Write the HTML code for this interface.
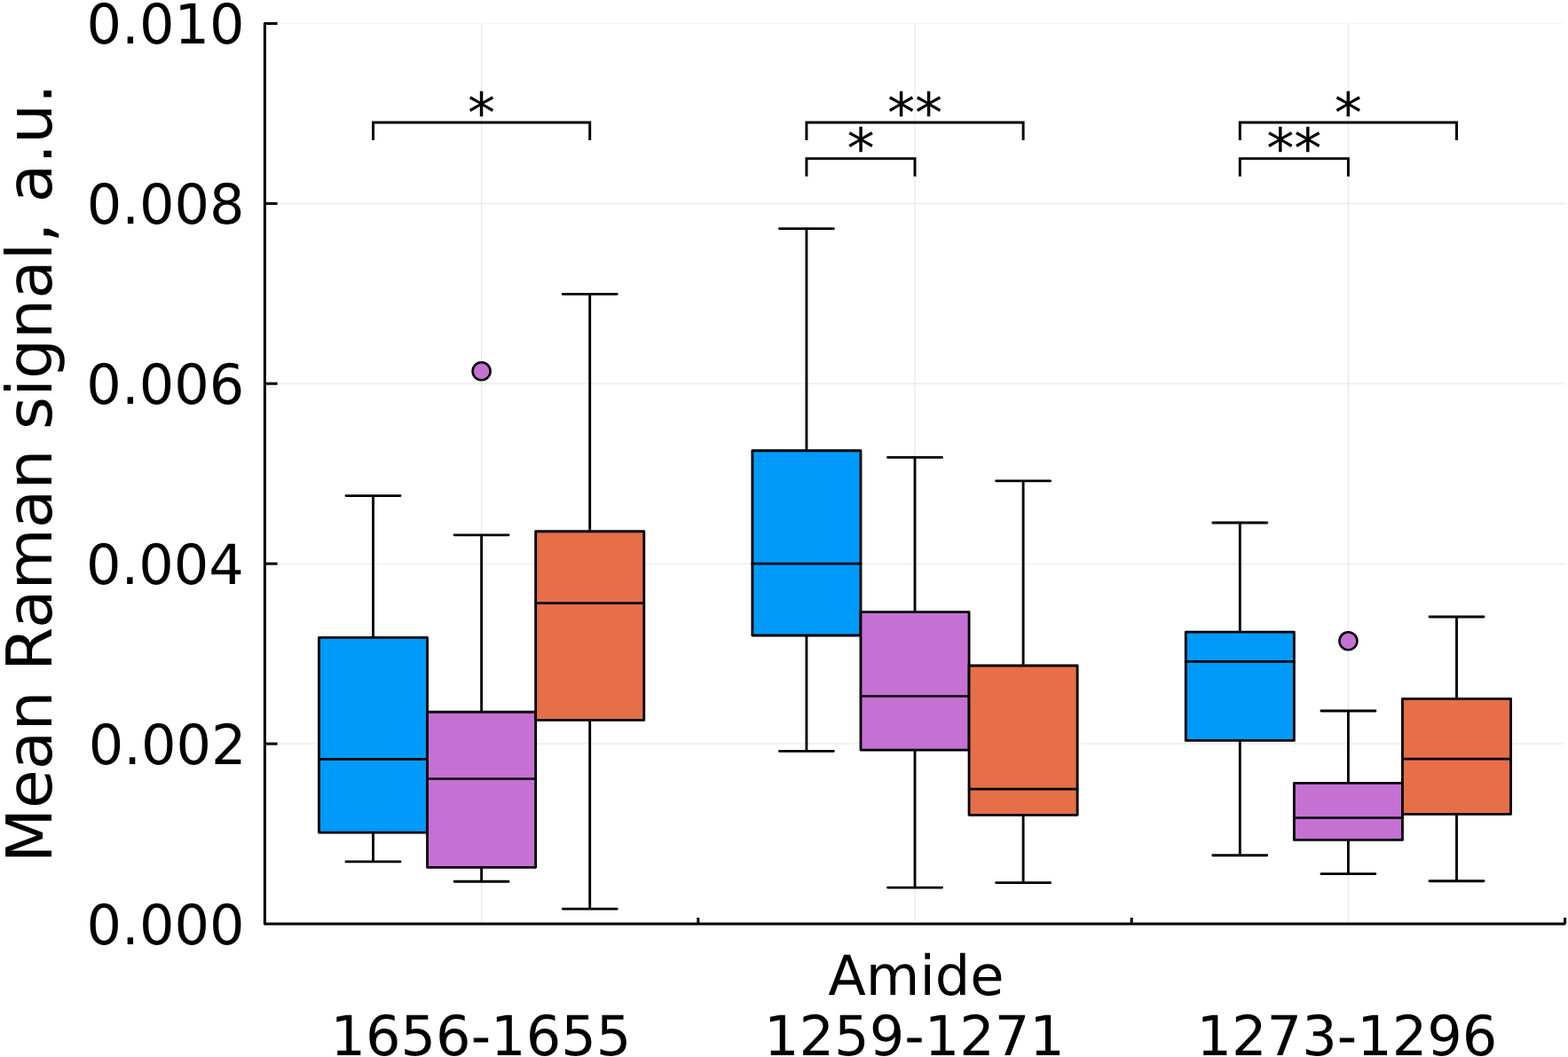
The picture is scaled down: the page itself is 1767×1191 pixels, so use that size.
<!DOCTYPE html>
<html lang="en">
<head>
<meta charset="utf-8">
<title>Mean Raman signal - Amide</title>
<style>
html,body{margin:0;padding:0;background:#fff;}
body{width:1767px;height:1191px;overflow:hidden;}
svg{display:block;}
text{font-family:"DejaVu Sans","Liberation Sans",sans-serif;fill:#000;text-rendering:geometricPrecision;}
.t{font-size:62.2px;}
.g{font-size:71.14px;}
.grid line{stroke:#000;stroke-opacity:0.1;stroke-width:1.05;}
.ax{stroke:#000;stroke-width:3.05;fill:none;}
.bx{stroke:#000;stroke-width:2.85;stroke-linejoin:round;}
.ln{stroke:#000;stroke-width:2.85;fill:none;stroke-linecap:round;}
.md{stroke:#000;stroke-width:2.7;fill:none;stroke-linecap:round;}
.br{stroke:#000;stroke-width:2.95;fill:none;stroke-linejoin:miter;stroke-linecap:butt;}
.pt{stroke:#000;stroke-width:2.55;}
</style>
</head>
<body>
<svg width="1767" height="1191" viewBox="0 0 1767 1191">
<rect x="0" y="0" width="1767" height="1191" fill="#fff"/>
<g class="grid">
<line x1="542.60" y1="26.40" x2="542.60" y2="1041.00"/>
<line x1="1031.00" y1="26.40" x2="1031.00" y2="1041.00"/>
<line x1="1519.40" y1="26.40" x2="1519.40" y2="1041.00"/>
<line x1="298.40" y1="26.40" x2="1763.60" y2="26.40" style="stroke-opacity:0.03"/>
<line x1="298.40" y1="229.32" x2="1763.60" y2="229.32"/>
<line x1="298.40" y1="432.24" x2="1763.60" y2="432.24"/>
<line x1="298.40" y1="635.16" x2="1763.60" y2="635.16"/>
<line x1="298.40" y1="838.08" x2="1763.60" y2="838.08"/>
</g>
<g class="ax">
<path d="M312.60,26.40 H298.40 V1041.00 H1764.20" stroke-linejoin="round"/>
<line x1="298.40" y1="229.32" x2="312.60" y2="229.32"/>
<line x1="298.40" y1="432.24" x2="312.60" y2="432.24"/>
<line x1="298.40" y1="635.16" x2="312.60" y2="635.16"/>
<line x1="298.40" y1="838.08" x2="312.60" y2="838.08"/>
<line x1="786.80" y1="1041.10" x2="786.80" y2="1034.00"/>
<line x1="1275.20" y1="1041.10" x2="1275.20" y2="1034.00"/>
<line x1="1763.60" y1="1041.10" x2="1763.60" y2="1034.00"/>
</g>
<g>
<path class="ln" d="M389.97,558.60 H451.02 M420.50,558.60 V718.40 M420.50,938.10 V970.90 M389.97,970.90 H451.02"/>
<rect class="bx" x="359.45" y="718.40" width="122.10" height="219.70" fill="#009AFA"/>
<line class="md" x1="359.45" y1="855.40" x2="481.55" y2="855.40"/>
<path class="ln" d="M878.38,257.60 H939.42 M908.90,257.60 V507.70 M908.90,716.00 V846.30 M878.38,846.30 H939.42"/>
<rect class="bx" x="847.85" y="507.70" width="122.10" height="208.30" fill="#009AFA"/>
<line class="md" x1="847.85" y1="635.20" x2="969.95" y2="635.20"/>
<path class="ln" d="M1366.77,589.00 H1427.82 M1397.30,589.00 V712.10 M1397.30,834.40 V963.70 M1366.77,963.70 H1427.82"/>
<rect class="bx" x="1336.25" y="712.10" width="122.10" height="122.30" fill="#009AFA"/>
<line class="md" x1="1336.25" y1="745.40" x2="1458.35" y2="745.40"/>
</g>
<g>
<circle class="pt" cx="542.60" cy="418.30" r="10.0" fill="#C571D4"/>
<path class="ln" d="M512.07,602.80 H573.12 M542.60,602.80 V802.20 M542.60,977.30 V993.20 M512.07,993.20 H573.12"/>
<rect class="bx" x="481.55" y="802.20" width="122.10" height="175.10" fill="#C571D4"/>
<line class="md" x1="481.55" y1="877.50" x2="603.65" y2="877.50"/>
<path class="ln" d="M1000.48,515.40 H1061.53 M1031.00,515.40 V689.60 M1031.00,845.10 V1000.10 M1000.48,1000.10 H1061.53"/>
<rect class="bx" x="969.95" y="689.60" width="122.10" height="155.50" fill="#C571D4"/>
<line class="md" x1="969.95" y1="784.50" x2="1092.05" y2="784.50"/>
<circle class="pt" cx="1519.40" cy="722.30" r="10.0" fill="#C571D4"/>
<path class="ln" d="M1488.87,801.00 H1549.92 M1519.40,801.00 V882.40 M1519.40,946.40 V984.60 M1488.87,984.60 H1549.92"/>
<rect class="bx" x="1458.35" y="882.40" width="122.10" height="64.00" fill="#C571D4"/>
<line class="md" x1="1458.35" y1="921.50" x2="1580.45" y2="921.50"/>
</g>
<g>
<path class="ln" d="M634.17,331.40 H695.22 M664.70,331.40 V598.70 M664.70,811.40 V1024.10 M634.17,1024.10 H695.22"/>
<rect class="bx" x="603.65" y="598.70" width="122.10" height="212.70" fill="#E66F48"/>
<line class="md" x1="603.65" y1="679.60" x2="725.75" y2="679.60"/>
<path class="ln" d="M1122.57,541.80 H1183.62 M1153.10,541.80 V750.00 M1153.10,918.30 V994.60 M1122.57,994.60 H1183.62"/>
<rect class="bx" x="1092.05" y="750.00" width="122.10" height="168.30" fill="#E66F48"/>
<line class="md" x1="1092.05" y1="889.10" x2="1214.15" y2="889.10"/>
<path class="ln" d="M1610.97,695.00 H1672.02 M1641.50,695.00 V787.30 M1641.50,917.40 V992.70 M1610.97,992.70 H1672.02"/>
<rect class="bx" x="1580.45" y="787.30" width="122.10" height="130.10" fill="#E66F48"/>
<line class="md" x1="1580.45" y1="855.10" x2="1702.55" y2="855.10"/>
</g>
<g>
<path class="br" d="M420.50,158.10 V137.90 H664.70 V158.10"/>
<text class="t" x="542.60" y="149.00" text-anchor="middle">*</text>
<path class="br" d="M908.90,158.10 V137.90 H1153.10 V158.10"/>
<text class="t" x="1031.00" y="149.00" text-anchor="middle">**</text>
<path class="br" d="M908.90,198.80 V178.60 H1031.00 V198.80"/>
<text class="t" x="969.95" y="189.00" text-anchor="middle">*</text>
<path class="br" d="M1397.30,158.10 V137.90 H1641.50 V158.10"/>
<text class="t" x="1519.40" y="149.00" text-anchor="middle">*</text>
<path class="br" d="M1397.30,198.80 V178.60 H1519.40 V198.80"/>
<text class="t" x="1458.35" y="189.00" text-anchor="middle">**</text>
</g>
<g class="t" text-anchor="end">
<text x="275.58" y="49.04">0.010</text>
<text x="275.70" y="251.96">0.008</text>
<text x="275.37" y="454.88">0.006</text>
<text x="274.94" y="657.80">0.004</text>
<text x="277.68" y="860.72">0.002</text>
<text x="275.58" y="1063.64">0.000</text>
</g>
<g class="t" text-anchor="middle">
<text x="541.90" y="1189.25">1656-1655</text>
<text x="1032.41" y="1121.3">Amide</text>
<text x="1030.45" y="1189.25">1259-1271</text>
<text x="1517.94" y="1189.25">1273-1296</text>
</g>
<text class="g" text-anchor="middle" transform="translate(58.4,533.35) rotate(-90)">Mean Raman signal, a.u.</text>
</svg>
</body>
</html>
